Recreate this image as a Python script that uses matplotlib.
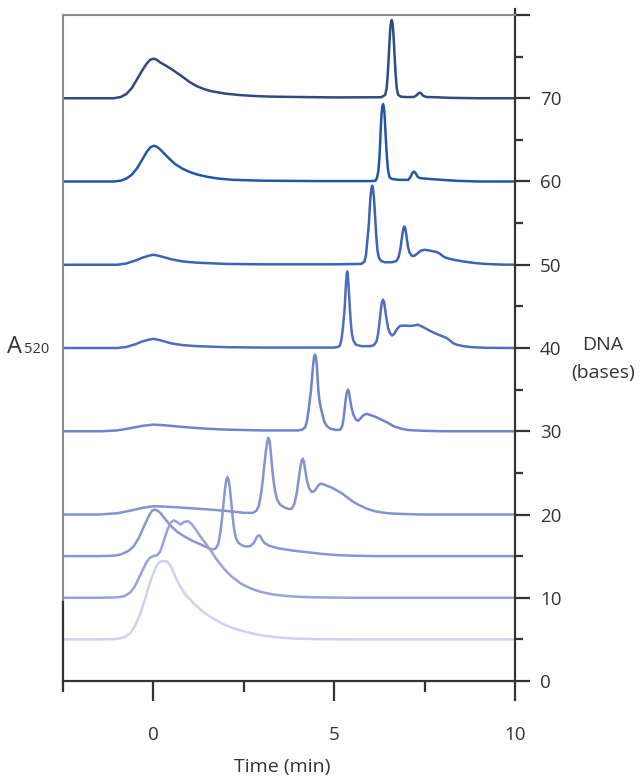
import matplotlib.pyplot as plt
from matplotlib.ticker import FixedLocator

plt.rcParams["font.family"] = ["Open Sans", "DejaVu Sans"]

# baseline of each trace (DNA length, bases)
offsets = [70, 60, 50, 40, 30, 20, 15, 10, 5]

# time (min) and signal height above baseline
t_70 = [-2.5, -1.1, -0.9, -0.75, -0.6, -0.45, -0.3, -0.18, -0.08, 0.0, 0.08, 0.19, 0.35, 0.5, 0.65,
        0.8, 1.0, 1.2, 1.4, 1.6, 1.8, 2.0, 2.4, 2.8, 3.2, 4.0, 5.0, 6.3, 6.41, 6.45, 6.48, 6.505,
        6.53, 6.55, 6.57, 6.59, 6.61, 6.63, 6.65, 6.675, 6.70, 6.73, 6.77, 6.85, 7.0, 7.2, 7.28,
        7.33, 7.37, 7.41, 7.46, 7.55, 7.8, 8.2, 9.0, 10.0]
h_70 = [0, 0, 0.15, 0.5, 1.2, 2.3, 3.4, 4.2, 4.65, 4.75, 4.65, 4.3, 3.9, 3.5, 3.05,
        2.6, 1.95, 1.45, 1.1, 0.85, 0.7, 0.55, 0.38, 0.27, 0.2, 0.15, 0.1, 0.12, 0.4, 1.2, 2.8, 4.7,
        6.8, 8.3, 9.1, 9.4, 9.1, 8.3, 6.8, 4.7, 2.8, 1.2, 0.4, 0.18, 0.14, 0.15, 0.35,
        0.6, 0.67, 0.55, 0.3, 0.15, 0.12, 0.05, 0, 0]

t_60 = [-2.5, -1.1, -0.9, -0.75, -0.6, -0.45, -0.3, -0.18, -0.07, 0.02, 0.1, 0.2, 0.3, 0.45, 0.6,
        0.8, 1.0, 1.2, 1.5, 1.8, 2.2, 3.0, 4.5, 6.0, 6.14, 6.18, 6.22, 6.25, 6.27, 6.29, 6.31, 6.33,
        6.35, 6.37, 6.39, 6.41, 6.435, 6.46, 6.49, 6.53, 6.6, 6.8, 7.05, 7.11, 7.16, 7.21, 7.26,
        7.31, 7.38, 7.6, 7.97, 8.4, 9.0, 10.0]
h_60 = [0, 0, 0.1, 0.35, 0.8, 1.6, 2.7, 3.6, 4.15, 4.3, 4.15, 3.8, 3.35, 2.7, 2.1,
        1.55, 1.15, 0.85, 0.55, 0.35, 0.2, 0.1, 0.05, 0.05, 0.08, 0.4, 1.2, 2.8, 4.6, 6.6, 8.2, 9.0,
        9.3, 9.0, 8.2, 6.6, 4.6, 2.8, 1.3, 0.5, 0.3, 0.2, 0.2, 0.55, 1.0, 1.2, 0.95,
        0.55, 0.4, 0.32, 0.2, 0.08, 0, 0]

t_50 = [-2.5, -1.0, -0.75, -0.5, -0.3, -0.12, 0.0, 0.12, 0.3, 0.5, 0.8, 1.2, 2.0, 3.0, 5.0, 5.75,
        5.84, 5.88, 5.91, 5.94, 5.96, 5.98, 6.0, 6.03, 6.05, 6.07, 6.1, 6.12, 6.145, 6.17, 6.2,
        6.24, 6.3, 6.4, 6.6, 6.72, 6.78, 6.83, 6.87, 6.91, 6.94, 6.97, 7.0, 7.04, 7.08, 7.14,
        7.21, 7.3, 7.4, 7.5, 7.62, 7.75, 7.85, 7.93, 8.0, 8.08, 8.3, 8.62, 8.9, 9.18, 9.6, 10.0]
h_50 = [0, 0, 0.15, 0.5, 0.85, 1.1, 1.2, 1.1, 0.9, 0.65, 0.4, 0.25, 0.1, 0.05, 0.05, 0.1,
        0.4, 1.2, 2.6, 4.0, 5.0, 6.6, 8.0, 9.2, 9.5, 9.2, 8.0, 6.6, 4.8, 3.0, 1.6,
        0.8, 0.45, 0.3, 0.3, 0.45, 0.9, 1.9, 3.2, 4.3, 4.6, 4.3, 3.4, 2.2, 1.5, 1.1,
        1.05, 1.35, 1.7, 1.8, 1.72, 1.6, 1.5, 1.3, 1.05, 0.85, 0.6, 0.36, 0.2, 0.1, 0.02, 0]

t_40 = [-2.5, -1.0, -0.75, -0.5, -0.3, -0.12, 0.0, 0.12, 0.3, 0.5, 0.8, 1.2, 2.0, 3.0, 5.0, 5.12,
        5.16, 5.2, 5.24, 5.27, 5.29, 5.31, 5.33, 5.345, 5.36, 5.375, 5.39, 5.41, 5.435, 5.46, 5.49,
        5.53, 5.6, 5.75, 6.0, 6.1, 6.17, 6.21, 6.25, 6.29, 6.32, 6.35, 6.38, 6.41, 6.45, 6.49,
        6.54, 6.6, 6.66, 6.74, 6.82, 6.95, 7.1, 7.2, 7.31, 7.42, 7.55, 7.7, 7.88, 8.0, 8.11, 8.2,
        8.3, 8.4, 8.6, 8.81, 9.2, 10.0]
h_40 = [0, 0, 0.12, 0.45, 0.8, 1.0, 1.1, 1.0, 0.8, 0.55, 0.35, 0.22, 0.1, 0.05, 0.05, 0.15,
        0.3, 1.0, 2.4, 3.8, 4.8, 6.5, 8.0, 8.9, 9.2, 8.9, 8.0, 6.5, 4.6, 3.0, 1.7,
        0.9, 0.4, 0.22, 0.22, 0.35, 0.8, 1.6, 3.0, 4.6, 5.5, 5.8, 5.5, 4.6, 3.4, 2.4,
        1.8, 1.5, 1.7, 2.3, 2.65, 2.7, 2.65, 2.7, 2.8, 2.6, 2.3, 1.95, 1.6, 1.4, 1.2, 0.9,
        0.55, 0.38, 0.2, 0.1, 0.02, 0]

t_30 = [-2.5, -1.4, -1.0, -0.6, -0.3, 0.0, 0.3, 0.6, 1.0, 1.5, 2.0, 3.0, 4.0, 4.12, 4.2, 4.25, 4.29,
        4.33, 4.36, 4.39, 4.42, 4.445, 4.47, 4.495, 4.52, 4.54, 4.56, 4.59, 4.63, 4.68, 4.73, 4.8,
        4.9, 5.05, 5.17, 5.22, 5.26, 5.29, 5.32, 5.35, 5.38, 5.41, 5.44, 5.48, 5.53, 5.6, 5.66,
        5.72, 5.8, 5.89, 6.0, 6.1, 6.21, 6.35, 6.49, 6.65, 6.86, 7.05, 7.32, 8.0, 10.0]
h_30 = [0, 0, 0.1, 0.4, 0.65, 0.8, 0.72, 0.6, 0.45, 0.3, 0.2, 0.1, 0.1, 0.2, 0.5, 1.3, 2.5,
        3.9, 5.0, 6.6, 8.1, 9.0, 9.2, 8.9, 7.9, 6.5, 5.0, 3.8, 2.8, 1.9, 1.1, 0.6,
        0.3, 0.15, 0.2, 0.6, 1.5, 2.7, 3.9, 4.7, 5.0, 4.7, 3.8, 2.8, 2.0, 1.4, 1.25,
        1.5, 1.9, 2.1, 1.95, 1.8, 1.6, 1.3, 1.0, 0.6, 0.3, 0.15, 0.08, 0, 0]

t_20 = [-2.5, -1.5, -1.0, -0.6, -0.3, 0.0, 0.3, 0.7, 1.2, 1.7, 2.2, 2.5, 2.75, 2.85, 2.92, 2.98,
        3.03, 3.07, 3.11, 3.15, 3.18, 3.21, 3.24, 3.27, 3.31, 3.36, 3.42, 3.5, 3.62, 3.75, 3.83,
        3.9, 3.96, 4.01, 4.06, 4.1, 4.13, 4.16, 4.2, 4.25, 4.31, 4.38, 4.45, 4.53, 4.6, 4.66, 4.8,
        4.92, 5.05, 5.19, 5.35, 5.5, 5.66, 5.9, 6.12, 6.35, 6.58, 7.0, 7.42, 10.0]
h_20 = [0, 0, 0.15, 0.5, 0.8, 1.0, 0.95, 0.85, 0.7, 0.55, 0.35, 0.2, 0.2, 0.45, 1.1, 2.6,
        4.3, 6.0, 7.6, 8.8, 9.2, 8.9, 7.8, 6.3, 4.5, 2.9, 1.8, 1.2, 0.85, 0.65, 0.7,
        1.3, 2.5, 4.0, 5.6, 6.5, 6.7, 6.4, 5.3, 4.0, 3.1, 2.7, 2.8, 3.3, 3.65, 3.7, 3.45,
        3.25, 2.95, 2.6, 2.1, 1.6, 1.2, 0.7, 0.4, 0.22, 0.12, 0.05, 0, 0]

t_15 = [-2.5, -1.47, -1.1, -0.9, -0.7, -0.55, -0.4, -0.27, -0.15, -0.05, 0.03, 0.1, 0.19, 0.3, 0.47,
        0.65, 0.84, 1.05, 1.31, 1.5, 1.63, 1.72, 1.79, 1.85, 1.9, 1.95, 1.99, 2.02, 2.05, 2.08,
        2.11, 2.15, 2.19, 2.23, 2.28, 2.35, 2.45, 2.56, 2.68, 2.78, 2.85, 2.9, 2.95, 3.01, 3.08,
        3.2, 3.44, 3.8, 4.08, 4.4, 4.7, 5.1, 5.5, 6.2, 10.0]
h_15 = [0, 0, 0.05, 0.2, 0.6, 1.15, 2.2, 3.5, 4.6, 5.4, 5.6, 5.5, 5.2, 4.6, 3.7,
        2.95, 2.4, 1.9, 1.4, 1.0, 0.8, 0.9, 1.4, 2.8, 4.6, 6.8, 8.4, 9.2, 9.5, 9.2,
        8.3, 6.6, 4.8, 3.3, 2.2, 1.6, 1.3, 1.15, 1.2, 1.6, 2.2, 2.5, 2.45, 1.95, 1.55,
        1.25, 0.95, 0.7, 0.55, 0.4, 0.25, 0.12, 0.05, 0, 0]

t_10 = [-2.5, -1.47, -1.0, -0.8, -0.65, -0.52, -0.4, -0.3, -0.2, -0.1, 0.0, 0.1, 0.18, 0.25, 0.32,
        0.4, 0.48, 0.56, 0.65, 0.75, 0.85, 0.95, 1.05, 1.12, 1.22, 1.31, 1.45, 1.58, 1.75, 1.95,
        2.15, 2.42, 2.7, 2.97, 3.3, 3.71, 4.1, 4.5, 5.5, 10.0]
h_10 = [0, 0, 0.05, 0.2, 0.6, 1.3, 2.4, 3.3, 4.2, 4.8, 5.0, 5.1, 5.5, 6.3, 7.3,
        8.3, 9.0, 9.3, 9.1, 8.8, 9.1, 9.2, 8.9, 8.5, 7.9, 7.3, 6.5, 5.7, 4.6, 3.5,
        2.6, 1.7, 1.1, 0.7, 0.4, 0.2, 0.1, 0.05, 0, 0]

t_5 = [-2.5, -1.47, -1.1, -0.92, -0.78, -0.64, -0.5, -0.36, -0.25, -0.13, -0.03, 0.06, 0.13, 0.2,
       0.3, 0.38, 0.45, 0.52, 0.62, 0.75, 0.9, 1.12, 1.35, 1.58, 1.9, 2.23, 2.6, 2.97, 3.4, 3.9,
       4.5, 5.5, 10.0]
h_5 = [0, 0, 0.03, 0.1, 0.3, 0.75, 1.7, 3.1, 4.6, 6.3, 7.6, 8.6, 9.1, 9.35,
       9.4, 9.35, 9.0, 8.4, 7.4, 6.3, 5.3, 4.3, 3.4, 2.7, 1.9, 1.3, 0.85, 0.5, 0.25, 0.1,
       0.03, 0, 0]

times = [t_70, t_60, t_50, t_40, t_30, t_20, t_15, t_10, t_5]
heights = [h_70, h_60, h_50, h_40, h_30, h_20, h_15, h_10, h_5]
colors = ["#2d4b7d", "#2157a5", "#3c62b6", "#4e6dbf", "#6d84c9",
          "#8393d0", "#8797d2", "#97a3d8", "#cdd3ee"]

x_major = [0, 5, 10]
x_minor = [-2.5, 2.5, 7.5]
y_major = [0, 10, 20, 30, 40, 50, 60, 70, 80]
y_labels = ["0", "10", "20", "30", "40", "50", "60", "70", ""]
y_minor = [5, 15, 25, 35, 45, 55, 65, 75]

fig = plt.figure(figsize=(6.4, 7.77), dpi=100)
ax = fig.add_axes([63 / 640, 1 - 681 / 777, (515 - 63) / 640, (681 - 15) / 777])

for t, h, off, c in zip(times, heights, offsets, colors):
    ax.plot(t, [off + v for v in h], color=c, lw=1.8,
            solid_joinstyle="round", solid_capstyle="round")

ax.set_xlim(-2.5, 10)
ax.set_ylim(0, 80)

ax.spines["left"].set_visible(False)
ax.spines["top"].set_color("#8c8c8c")
ax.spines["top"].set_linewidth(1.5)
for side in ["right", "bottom"]:
    ax.spines[side].set_color("#333333")
    ax.spines[side].set_linewidth(1.6)

# left edge: grey above, dark near the bottom; right spine pokes above the top
ax.plot([-2.5, -2.5], [9.6, 80], color="#8c8c8c", lw=1.5, clip_on=False)
ax.plot([-2.5, -2.5], [0, 9.5], color="#333333", lw=1.6, clip_on=False)
ax.plot([10, 10], [80, 80.7], color="#333333", lw=1.6, clip_on=False)

ax.xaxis.set_major_locator(FixedLocator(x_major))
ax.xaxis.set_minor_locator(FixedLocator(x_minor))
ax.set_xticklabels([str(v) for v in x_major])
ax.tick_params(axis="x", which="major", direction="out", length=14.5, width=1.6,
               color="#333333", pad=18, labelsize=13.5, labelcolor="#333333")
ax.tick_params(axis="x", which="minor", direction="out", length=8, width=1.6, color="#333333")

ax.yaxis.tick_right()
ax.yaxis.set_major_locator(FixedLocator(y_major))
ax.yaxis.set_minor_locator(FixedLocator(y_minor))
ax.set_yticklabels(y_labels)
ax.tick_params(axis="y", which="major", direction="out", length=11, width=1.6,
               color="#333333", pad=7, labelsize=13.5, labelcolor="#333333")
ax.tick_params(axis="y", which="minor", direction="out", length=6, width=1.6, color="#333333")

fig.text(282 / 640, 1 - 767 / 777, "Time (min)", ha="center", va="center",
         fontsize=14, color="#333333")
fig.text(603 / 640, 1 - 345 / 777, "DNA", ha="center", va="center", fontsize=14, color="#333333")
fig.text(603 / 640, 1 - 373 / 777, "(bases)", ha="center", va="center", fontsize=14, color="#333333")
fig.text(7 / 640, 1 - 353 / 777, "A", ha="left", va="baseline", fontsize=17, color="#333333")
fig.text(24 / 640, 1 - 353 / 777, "520", ha="left", va="baseline", fontsize=10.5, color="#333333")

fig.savefig("out.png", dpi=100)
plt.close(fig)
